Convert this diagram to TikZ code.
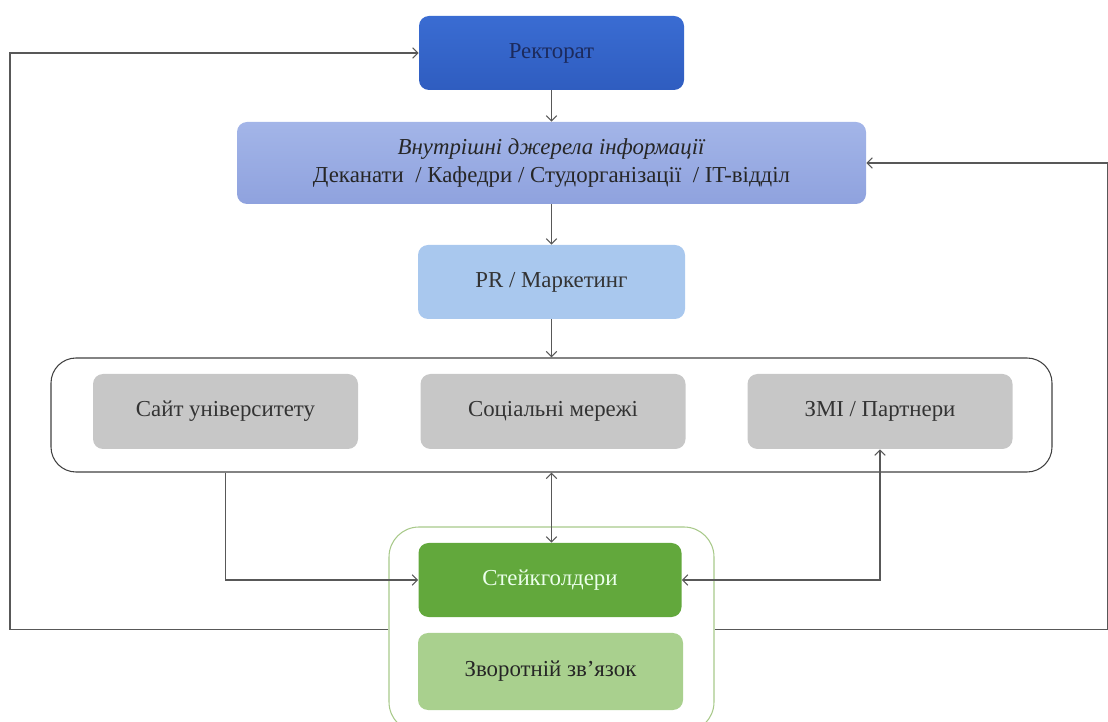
\documentclass[tikz,border=0pt]{standalone}
\usepackage{fontspec}
\setmainfont{Liberation Serif}
\usetikzlibrary{arrows.meta,positioning}
\definecolor{rectblue}{HTML}{3A6CD2}
\definecolor{rectdark}{HTML}{2F5DC0}
\definecolor{rectink}{HTML}{1C2A5C}
\definecolor{srcblue}{HTML}{A3B5E8}
\definecolor{srcdark}{HTML}{8FA2DE}
\definecolor{prblue}{HTML}{A9C8EE}
\definecolor{chgray}{HTML}{C7C7C7}
\definecolor{stgreen}{HTML}{62A83C}
\definecolor{fbgreen}{HTML}{A9D08E}
\definecolor{grpgreen}{HTML}{A8C98A}
\definecolor{linegray}{HTML}{585858}

\begin{document}
\begin{tikzpicture}[
  font=\fontsize{13}{15.5}\selectfont,
  box/.style={rounded corners=0.2cm, minimum width=5.3cm, minimum height=1.48cm, inner sep=2pt, align=center},
  conn/.style={draw=linegray, line width=0.6pt},
  >={Straight Barb[length=3pt,width=6pt]}
]
\useasboundingbox (0,0) rectangle (22.16,-14.44);
\clip (0,0) rectangle (22.16,-14.44);

\node[draw=black!75, line width=0.6pt, rounded corners=0.5cm, minimum width=20.02cm, minimum height=2.28cm] (kanaly) at (11.03,-8.3) {};
\node[draw=grpgreen, line width=0.6pt, rounded corners=0.6cm, minimum width=6.5cm, minimum height=4.1cm] (grupa) at (11.03,-12.59) {};

\node[box, top color=rectblue, bottom color=rectdark, text=rectink] (rect) at (11.03,-1.06) {Ректорат};
\node[box, top color=srcblue, bottom color=srcdark, minimum width=12.58cm, minimum height=1.64cm, text=black!85] (dzherela) at (11.03,-3.26)
  {\textit{Внутрішні джерела інформації}\\Деканати \ / Кафедри / Студорганізації \ / IT-відділ};
\node[box, fill=prblue, minimum width=5.34cm, text=black!80] (pr) at (11.03,-5.64) {PR / Маркетинг};

\node[box, fill=chgray, minimum height=1.5cm, text=black!80] (sait) at (4.51,-8.23) {Сайт університету};
\node[box, fill=chgray, minimum height=1.5cm, text=black!80] (socmer) at (11.06,-8.23) {Соціальні мережі};
\node[box, fill=chgray, minimum height=1.5cm, text=black!80] (zmi) at (17.6,-8.23) {ЗМІ / Партнери};

\node[box, fill=stgreen, minimum width=5.26cm, text=white!92!green] (stake) at (11.0,-11.6) {Стейкголдери};
\node[box, fill=fbgreen, minimum height=1.54cm, text=black!85] (zvorot) at (11.01,-13.43) {Зворотній зв’язок};

\coordinate (lft) at (0.2,-1.06);
\coordinate (rgt) at (22.15,-3.26);

\draw[conn,->] (rect) -- (dzherela);
\draw[conn,->] (dzherela) -- (pr);
\draw[conn,->] (pr) -- (kanaly);
\draw[conn,<->] (kanaly) -- (kanaly |- stake.north);
\draw[conn,->] (sait.south |- kanaly.south) |- (stake.west);
\draw[conn,<->] (zmi.south) |- (stake.east);
\draw[conn,->] (grupa.west) -| (lft) -- (rect.west);
\draw[conn,->] (grupa.east) -| (rgt) -- (dzherela.east);
\end{tikzpicture}
\end{document}
